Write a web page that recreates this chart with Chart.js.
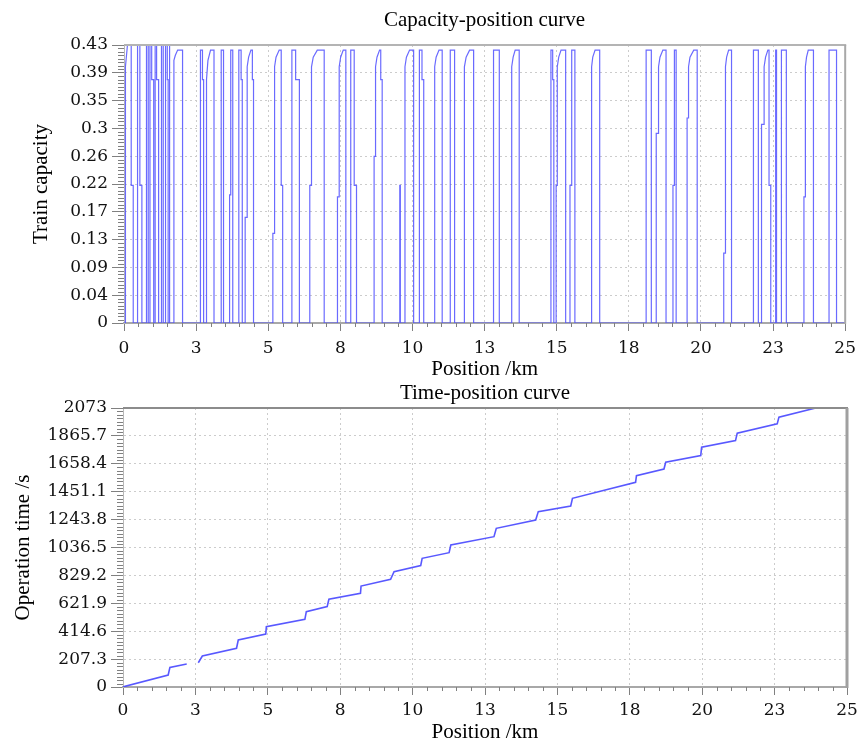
<!DOCTYPE html>
<html><head><meta charset="utf-8">
<script src="https://cdn.jsdelivr.net/npm/chart.js@4.4.0/dist/chart.umd.min.js"></script>
<style>
html,body{margin:0;padding:0;background:#fff;overflow:hidden;width:863px;height:740px;}
#c1{position:absolute;left:0;top:0;}
#c2{position:absolute;left:0;top:370px;}
</style></head><body>
<canvas id="c1" width="863" height="384"></canvas>
<canvas id="c2" width="863" height="380"></canvas>
<script>
// ---------- data ----------
const posTickValues = [0, 2.5, 5, 7.5, 10, 12.5, 15, 17.5, 20, 22.5, 25];
const posTickLabels = ['0', '3', '5', '8', '10', '13', '15', '18', '20', '23', '25'];
const capTickValues = [0, 0.0434, 0.0868, 0.1302, 0.1736, 0.217, 0.2604, 0.3038, 0.3472, 0.3906, 0.434];
const capTickLabels = ['0', '0.04', '0.09', '0.13', '0.17', '0.22', '0.26', '0.3', '0.35', '0.39', '0.43'];
const timeTickValues = [0, 207.3, 414.6, 621.9, 829.2, 1036.5, 1243.8, 1451.1, 1658.4, 1865.7, 2073];
const timeTickLabels = ['0', '207.3', '414.6', '621.9', '829.2', '1036.5', '1243.8', '1451.1', '1658.4', '1865.7', '2073'];

// capacity vs position [km, capacity]
const capacityPoints = [
 [0,0],[0.05,0],[0.05,0.33],[0.05,0.40],[0.12,0.434],[0.25,0.434],[0.25,0.215],[0.32,0.215],[0.32,0],
 [0.47,0],[0.47,0.434],[0.55,0.434],[0.55,0.215],[0.62,0.215],[0.62,0],
 [0.78,0],[0.78,0.434],[0.84,0.434],[0.84,0],
 [0.90,0],[0.90,0.434],[0.96,0.434],[0.96,0.38],[1.03,0.38],[1.03,0],
 [1.08,0],[1.08,0.434],[1.13,0.434],[1.13,0.38],[1.20,0.38],[1.20,0],
 [1.30,0],[1.30,0.434],[1.36,0.434],[1.36,0],
 [1.44,0],[1.44,0.434],[1.50,0.434],[1.50,0.38],[1.53,0.38],[1.53,0],
 [1.56,0],[1.56,0.434],[1.59,0.434],[1.59,0],
 [1.73,0],[1.73,0.41],[1.78,0.418],[1.86,0.426],[2.03,0.426],[2.03,0],
 [2.65,0],[2.65,0.426],[2.72,0.426],[2.72,0.38],[2.76,0.38],[2.76,0],
 [2.86,0],[2.86,0.38],[2.91,0.41],[3.00,0.426],[3.12,0.426],[3.12,0],
 [3.37,0],[3.37,0.426],[3.45,0.426],[3.45,0],
 [3.66,0],[3.66,0.2],[3.70,0.2],[3.70,0.426],[3.77,0.426],[3.77,0],
 [3.98,0],[3.98,0.426],[4.06,0.426],[4.06,0.38],[4.10,0.38],[4.10,0],
 [4.20,0],[4.20,0.165],[4.27,0.165],[4.27,0.40],[4.32,0.415],[4.40,0.426],[4.45,0.426],[4.45,0.38],[4.49,0.38],[4.49,0],
 [5.16,0],[5.16,0.14],[5.22,0.14],[5.22,0.40],[5.27,0.415],[5.38,0.426],[5.45,0.426],[5.45,0.215],[5.50,0.215],[5.50,0],
 [5.82,0],[5.82,0.426],[5.95,0.426],[5.95,0.38],[6.08,0.38],[6.08,0],
 [6.44,0],[6.44,0.215],[6.50,0.215],[6.50,0.40],[6.56,0.415],[6.70,0.426],[6.94,0.426],[6.94,0],
 [7.40,0],[7.40,0.197],[7.46,0.197],[7.46,0.40],[7.51,0.415],[7.60,0.426],[7.69,0.426],[7.69,0],
 [7.86,0],[7.86,0.426],[7.98,0.426],[7.98,0.215],[8.06,0.215],[8.06,0],
 [8.67,0],[8.67,0.26],[8.72,0.26],[8.72,0.40],[8.77,0.415],[8.86,0.426],[8.90,0.426],[8.90,0.38],[8.95,0.38],[8.95,0],
 [9.56,0],[9.56,0.215],[9.58,0.215],[9.58,0],
 [9.74,0],[9.74,0.40],[9.79,0.415],[9.90,0.426],[10.04,0.426],[10.04,0],
 [10.24,0],[10.24,0.426],[10.33,0.426],[10.33,0.38],[10.39,0.38],[10.39,0],
 [10.77,0],[10.77,0.40],[10.82,0.415],[10.92,0.426],[11.03,0.426],[11.03,0],
 [11.31,0],[11.31,0.426],[11.46,0.426],[11.46,0],
 [11.80,0],[11.80,0.40],[11.86,0.415],[11.98,0.426],[12.12,0.426],[12.12,0],
 [12.81,0],[12.81,0.426],[13.01,0.426],[13.01,0],
 [13.44,0],[13.44,0.40],[13.49,0.415],[13.56,0.426],[13.70,0.426],[13.70,0],
 [14.80,0],[14.80,0.426],[14.86,0.426],[14.86,0.38],[14.90,0.38],[14.90,0],
 [14.98,0],[14.98,0.215],[15.02,0.215],[15.02,0.40],[15.07,0.415],[15.15,0.426],[15.31,0.426],[15.31,0],
 [15.46,0],[15.46,0.215],[15.52,0.215],[15.52,0.426],[15.63,0.426],[15.63,0],
 [16.21,0],[16.21,0.40],[16.25,0.415],[16.33,0.426],[16.49,0.426],[16.49,0],
 [18.10,0],[18.10,0.426],[18.28,0.426],[18.28,0],
 [18.45,0],[18.45,0.296],[18.53,0.296],[18.53,0.40],[18.58,0.415],[18.68,0.426],[18.79,0.426],[18.79,0],
 [19.03,0],[19.03,0.215],[19.08,0.215],[19.08,0.426],[19.14,0.426],[19.14,0],
 [19.52,0],[19.52,0.32],[19.57,0.32],[19.57,0.40],[19.62,0.415],[19.75,0.426],[19.87,0.426],[19.87,0],
 [20.79,0],[20.79,0.109],[20.85,0.109],[20.85,0.40],[20.89,0.415],[20.96,0.426],[21.06,0.426],[21.06,0],
 [21.82,0],[21.82,0.426],[21.99,0.426],[21.99,0],
 [22.10,0],[22.10,0.31],[22.19,0.31],[22.19,0.40],[22.24,0.415],[22.32,0.426],[22.36,0.426],[22.36,0.215],[22.42,0.215],[22.42,0],
 [22.59,0],[22.59,0.426],[22.62,0.426],[22.62,0],
 [22.79,0],[22.79,0.426],[22.96,0.426],[22.96,0],
 [23.57,0],[23.57,0.197],[23.62,0.197],[23.62,0.40],[23.66,0.415],[23.72,0.426],[23.90,0.426],[23.90,0],
 [24.44,0],[24.44,0.426],[24.70,0.426],[24.70,0],[25,0]
];

// operation time vs position [km, s]; null = gap in the curve
const timePoints = [
 [0,0],[0.07,5],[1.56,89],[1.62,146],[2.2,171],[2.4,null],
 [2.6,180],[2.74,230],[3.92,288],[3.98,349],[4.93,394],[4.95,448],
 [6.28,503],[6.33,560],[7.05,597],[7.11,652],[8.2,696],[8.22,750],
 [9.24,800],[9.36,857],[10.28,902],[10.33,956],[11.26,998],[11.32,1055],
 [12.81,1117],[12.89,1179],[14.25,1241],[14.34,1303],[15.46,1345],[15.52,1402],
 [17.7,1521],[17.73,1570],[18.68,1620],[18.74,1670],[19.95,1720],[19.98,1782],
 [21.15,1831],[21.21,1886],[22.59,1955],[22.65,2005],[23.92,2073]
];

// ---------- plugins ----------
const minorTicks = {
  id: 'minorTicks',
  afterDraw(chart, args, opts) {
    const {ctx, chartArea: a, scales: {x, y}} = chart;
    ctx.save();
    ctx.strokeStyle = '#808080';
    ctx.lineWidth = 1;
    ctx.beginPath();
    for (let i = 0; i < posTickValues.length - 1; i++) {
      for (let k = 1; k < 5; k++) {
        const v = posTickValues[i] + (posTickValues[i + 1] - posTickValues[i]) * k / 5;
        const px = Math.round(x.getPixelForValue(v)) + 0.5;
        ctx.moveTo(px, a.bottom);
        ctx.lineTo(px, a.bottom + 4);
      }
    }
    const yt = opts.yTicks || [];
    for (let i = 0; i < yt.length - 1; i++) {
      for (let k = 1; k < 8; k++) {
        const v = yt[i] + (yt[i + 1] - yt[i]) * k / 8;
        const py = Math.round(y.getPixelForValue(v)) + 0.5;
        ctx.moveTo(a.left - 6, py);
        ctx.lineTo(a.left, py);
      }
    }
    ctx.stroke();
    ctx.restore();
  }
};
const frame = {
  id: 'frame',
  afterDraw(chart, args, opts) {
    const {ctx, chartArea: a} = chart;
    ctx.save();
    ctx.strokeStyle = opts.topColor || '#a0a0a0';
    ctx.lineWidth = opts.topWidth || 2;
    ctx.beginPath(); ctx.moveTo(a.left, a.top); ctx.lineTo(a.right + 1, a.top); ctx.stroke();
    ctx.strokeStyle = opts.rightColor || '#a0a0a0';
    ctx.lineWidth = opts.rightWidth || 2;
    ctx.beginPath(); ctx.moveTo(a.right, a.top); ctx.lineTo(a.right, a.bottom + 1); ctx.stroke();
    ctx.restore();
  }
};

const tickFont = {family: 'DejaVu Serif', size: 17};
const titleFont = {family: 'Liberation Serif', size: 21, weight: 'normal'};

function xScale(height, pad, titleBottom) {
  return {
    type: 'linear', min: 0, max: 25,
    afterBuildTicks: s => { s.ticks = posTickValues.map(v => ({value: v})); },
    afterFit: s => { s.height = height; },
    ticks: {callback: (v, i) => posTickLabels[i], autoSkip: false, maxRotation: 0, font: tickFont, color: '#111', padding: pad},
    grid: {color: '#cccccc', tickColor: '#808080', tickLength: 8, tickWidth: 1},
    border: {display: true, color: '#a8a8a8', width: 2, dash: [2, 3]},
    title: {display: true, text: 'Position /km', font: titleFont, color: '#000', padding: {top: 0, bottom: titleBottom}}
  };
}
function yScale(width, min, max, vals, labels, title, titleTop) {
  return {
    type: 'linear', min: min, max: max,
    afterBuildTicks: s => { s.ticks = vals.map(v => ({value: v})); },
    afterFit: s => { s.width = width; },
    ticks: {callback: (v, i) => labels[i], autoSkip: false, font: tickFont, color: '#111', padding: 4},
    grid: {color: '#cccccc', tickColor: '#808080', tickLength: 12, tickWidth: 1},
    border: {display: true, color: '#b8b8b8', width: 1, dash: [2, 3]},
    title: {display: true, text: title, font: titleFont, color: '#000', padding: {top: titleTop, bottom: 0}}
  };
}

new Chart(document.getElementById('c1'), {
  type: 'line',
  data: {datasets: [{
    data: capacityPoints.map(p => ({x: p[0], y: p[1]})),
    borderColor: 'rgba(80,80,255,0.85)', borderWidth: 1.2, pointRadius: 0, tension: 0, fill: false
  }]},
  options: {
    responsive: false, animation: false, events: [],
    layout: {padding: {left: 0, right: 15, top: 0, bottom: 0}},
    plugins: {
      legend: {display: false}, tooltip: {enabled: false},
      title: {display: true, text: 'Capacity-position curve', fullSize: false, color: '#000', font: titleFont, padding: {top: 7.4, bottom: 12.4}},
      minorTicks: {yTicks: capTickValues},
      frame: {topColor: '#b4b4b4', topWidth: 2, rightColor: '#a8a8a8', rightWidth: 2}
    },
    scales: {
      x: xScale(61, 7, 2.4),
      y: yScale(124, 0, 0.434, capTickValues, capTickLabels, 'Train capacity', 28.4)
    }
  },
  plugins: [minorTicks, frame]
});

new Chart(document.getElementById('c2'), {
  type: 'line',
  data: {datasets: [{
    data: timePoints.map(p => ({x: p[0], y: p[1]})),
    borderColor: 'rgba(70,70,255,0.9)', borderWidth: 1.6, pointRadius: 0, tension: 0, fill: false, spanGaps: false
  }]},
  options: {
    responsive: false, animation: false, events: [],
    layout: {padding: {left: 0, right: 16, top: 0, bottom: 0}},
    plugins: {
      legend: {display: false}, tooltip: {enabled: false},
      title: {display: true, text: 'Time-position curve', fullSize: false, color: '#000', font: titleFont, padding: {top: 10.4, bottom: 2.4}},
      minorTicks: {yTicks: timeTickValues},
      frame: {topColor: '#8c8c8c', topWidth: 2, rightColor: '#a0a0a0', rightWidth: 3}
    },
    scales: {
      x: xScale(63, 5, 5.4),
      y: yScale(123, 0, 2073, timeTickValues, timeTickLabels, 'Operation time /s', 10.4)
    }
  },
  plugins: [minorTicks, frame]
});
</script>
</body></html>
